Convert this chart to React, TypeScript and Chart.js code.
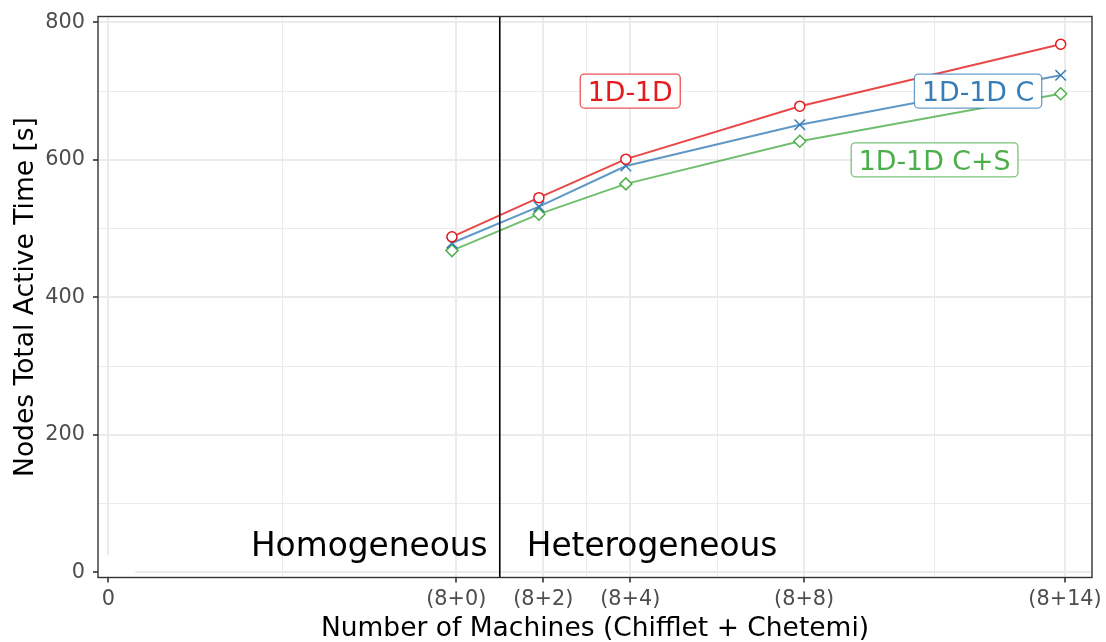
import React, { useEffect, useRef } from "react";
import { Chart, registerables } from "chart.js";

Chart.register(...registerables);

// ---- data ----
const xMajorTicks = [0, 8, 10, 12, 16, 22];
const xTickLabels = ["0", "(8+0)", "(8+2)", "(8+4)", "(8+8)", "(8+14)"];
const xMinorTicks = [4, 9, 11, 14, 19];
const yMajorTicks = [0, 200, 400, 600, 800];
const yMinorTicks = [100, 300, 500, 700];

const machines = [7.9, 9.9, 11.9, 15.9, 21.9];
const time1D1D = [488, 545, 601, 678, 768];
const time1D1DC = [479, 532, 591, 651, 723];
const time1D1DCS = [468, 521, 565, 627, 696];

const seriesNames = ["1D-1D", "1D-1D C", "1D-1D C+S"];
const seriesColors = ["#E41A1C", "#377EB8", "#4DAF4A"];
const labelX = [12, 20, 19];
const labelY = [700, 700, 600];

const regionTexts = ["Homogeneous", "Heterogeneous"];
const regionX = [8.72, 9.62];
const regionY = 24;
const splitX = 9;

const X_MIN = -0.24;
const X_MAX = 22.62;
const Y_MIN = -7.3;
const Y_MAX = 808.4;

const FONT = "'DejaVu Sans', sans-serif";

function rgba(hex: string, a: number) {
  const n = parseInt(hex.slice(1), 16);
  return `rgba(${(n >> 16) & 255},${(n >> 8) & 255},${n & 255},${a})`;
}

function roundRect(ctx: CanvasRenderingContext2D, x: number, y: number, w: number, h: number, r: number) {
  ctx.beginPath();
  ctx.moveTo(x + r, y);
  ctx.lineTo(x + w - r, y);
  ctx.arcTo(x + w, y, x + w, y + r, r);
  ctx.lineTo(x + w, y + h - r);
  ctx.arcTo(x + w, y + h, x + w - r, y + h, r);
  ctx.lineTo(x + r, y + h);
  ctx.arcTo(x, y + h, x, y + h - r, r);
  ctx.lineTo(x, y + r);
  ctx.arcTo(x, y, x + r, y, r);
  ctx.closePath();
}

const annotPlugin = {
  id: "annots",
  beforeDatasetsDraw(chart: any) {
    const { ctx, chartArea, scales } = chart;
    const x = scales.x, y = scales.y;
    ctx.save();
    ctx.fillStyle = "#ffffff";
    const x0 = chartArea.left + 1;
    const x1 = x.getPixelForValue(0.62);
    const y0 = y.getPixelForValue(25);
    const y1 = chartArea.bottom - 1;
    ctx.fillRect(x0, y0, x1 - x0, y1 - y0);
    ctx.restore();
  },
  afterDatasetsDraw(chart: any) {
    const { ctx, chartArea, scales } = chart;
    const x = scales.x, y = scales.y;
    ctx.save();
    // split line
    const sx = x.getPixelForValue(splitX);
    ctx.strokeStyle = "#000000";
    ctx.lineWidth = 1.6;
    ctx.beginPath();
    ctx.moveTo(sx, chartArea.top);
    ctx.lineTo(sx, chartArea.bottom);
    ctx.stroke();

    // region texts
    ctx.fillStyle = "#000000";
    ctx.font = `32.8px ${FONT}`;
    ctx.textBaseline = "alphabetic";
    ctx.textAlign = "right";
    ctx.fillText(regionTexts[0], x.getPixelForValue(regionX[0]), y.getPixelForValue(regionY));
    ctx.textAlign = "left";
    ctx.fillText(regionTexts[1], x.getPixelForValue(regionX[1]), y.getPixelForValue(regionY));

    // series labels
    ctx.font = `26.8px ${FONT}`;
    ctx.textAlign = "center";
    for (let i = 0; i < seriesNames.length; i++) {
      const cx = x.getPixelForValue(labelX[i]);
      const cy = y.getPixelForValue(labelY[i]);
      const w = ctx.measureText(seriesNames[i]).width + 15;
      const h = 34;
      roundRect(ctx, cx - w / 2, cy - h / 2, w, h, 4);
      ctx.fillStyle = "#ffffff";
      ctx.fill();
      ctx.strokeStyle = rgba(seriesColors[i], 0.75);
      ctx.lineWidth = 1.3;
      ctx.stroke();
      ctx.fillStyle = seriesColors[i];
      ctx.fillText(seriesNames[i], cx, cy + 9.7);
    }

    // panel border
    ctx.strokeStyle = "#333333";
    ctx.lineWidth = 1.4;
    ctx.strokeRect(chartArea.left, chartArea.top, chartArea.right - chartArea.left, chartArea.bottom - chartArea.top);
    ctx.restore();
  },
};

function makeDataset(label: string, values: number[], color: string, style: string, radius: number) {
  return {
    label,
    data: machines.map((m, i) => ({ x: m, y: values[i] })),
    borderColor: rgba(color, 0.8),
    borderWidth: 2,
    pointStyle: style,
    pointRadius: radius,
    pointBorderColor: color,
    pointBackgroundColor: "#ffffff",
    pointBorderWidth: 1.5,
    tension: 0,
    fill: false,
  };
}

export default function App() {
  const ref = useRef<HTMLCanvasElement | null>(null);
  useEffect(() => {
    if (!ref.current) return;
    const isMajorX = (v: number) => xMajorTicks.includes(v);
    const isMajorY = (v: number) => yMajorTicks.includes(v);
    const chart = new Chart(ref.current, {
      type: "line",
      data: {
        datasets: [
          makeDataset(seriesNames[0], time1D1D, seriesColors[0], "circle", 5),
          makeDataset(seriesNames[1], time1D1DC, seriesColors[1], "crossRot", 7.5),
          makeDataset(seriesNames[2], time1D1DCS, seriesColors[2], "rectRot", 6),
        ],
      },
      options: {
        animation: false,
        responsive: false,
        devicePixelRatio: 1,
        layout: { padding: { top: 16.5, right: 14, left: 0, bottom: 0 } },
        plugins: { legend: { display: false }, tooltip: { enabled: false } },
        scales: {
          x: {
            type: "linear",
            min: X_MIN,
            max: X_MAX,
            afterBuildTicks: (s: any) => {
              s.ticks = [...xMajorTicks, ...xMinorTicks].sort((a, b) => a - b).map((v) => ({ value: v }));
            },
            afterFit: (s: any) => {
              s.height = 64.5;
              s.paddingLeft = 0;
              s.paddingRight = 0;
            },
            border: { display: false },
            grid: {
              color: "#EBEBEB",
              lineWidth: (c: any) => (isMajorX(c.tick?.value) ? 2 : 1),
              tickColor: (c: any) => (isMajorX(c.tick?.value) ? "#333333" : "rgba(0,0,0,0)"),
              tickWidth: 1.6,
              tickLength: 5,
              drawTicks: true,
            },
            ticks: {
              autoSkip: false,
              maxRotation: 0,
              padding: 4.5,
              color: "#4D4D4D",
              font: { family: FONT, size: 20.8 },
              callback: (v: any) => {
                const i = xMajorTicks.indexOf(Number(v));
                return i >= 0 ? xTickLabels[i] : "";
              },
            },
            title: {
              display: true,
              text: "Number of Machines (Chifflet + Chetemi)",
              color: "#000000",
              font: { family: FONT, size: 26.5, lineHeight: 0.94 },
              padding: { top: 0, bottom: 0 },
            },
          },
          y: {
            type: "linear",
            min: Y_MIN,
            max: Y_MAX,
            afterBuildTicks: (s: any) => {
              s.ticks = [...yMajorTicks, ...yMinorTicks].sort((a, b) => a - b).map((v) => ({ value: v }));
            },
            afterFit: (s: any) => {
              s.width = 98;
              s.paddingTop = 0;
              s.paddingBottom = 0;
            },
            border: { display: false },
            grid: {
              color: "#EBEBEB",
              lineWidth: (c: any) => (isMajorY(c.tick?.value) ? 2 : 1),
              tickColor: (c: any) => (isMajorY(c.tick?.value) ? "#333333" : "rgba(0,0,0,0)"),
              tickWidth: 1.6,
              tickLength: 5,
              drawTicks: true,
            },
            ticks: {
              autoSkip: false,
              padding: 8,
              color: "#4D4D4D",
              font: { family: FONT, size: 20.8, lineHeight: 0.7 },
              callback: (v: any) => (isMajorY(Number(v)) ? String(v) : ""),
            },
            title: {
              display: true,
              text: "Nodes Total Active Time [s]",
              color: "#000000",
              font: { family: FONT, size: 26.5, lineHeight: 1.2 },
              padding: { top: 10, bottom: 0 },
            },
          },
        },
      },
      plugins: [annotPlugin],
    } as any);
    return () => chart.destroy();
  }, []);

  return (
    <div style={{ position: "fixed", left: 0, top: 0, width: 1106, height: 642, background: "#ffffff" }}>
      <canvas ref={ref} width={1106} height={642} style={{ width: 1106, height: 642, display: "block" }} />
    </div>
  );
}
